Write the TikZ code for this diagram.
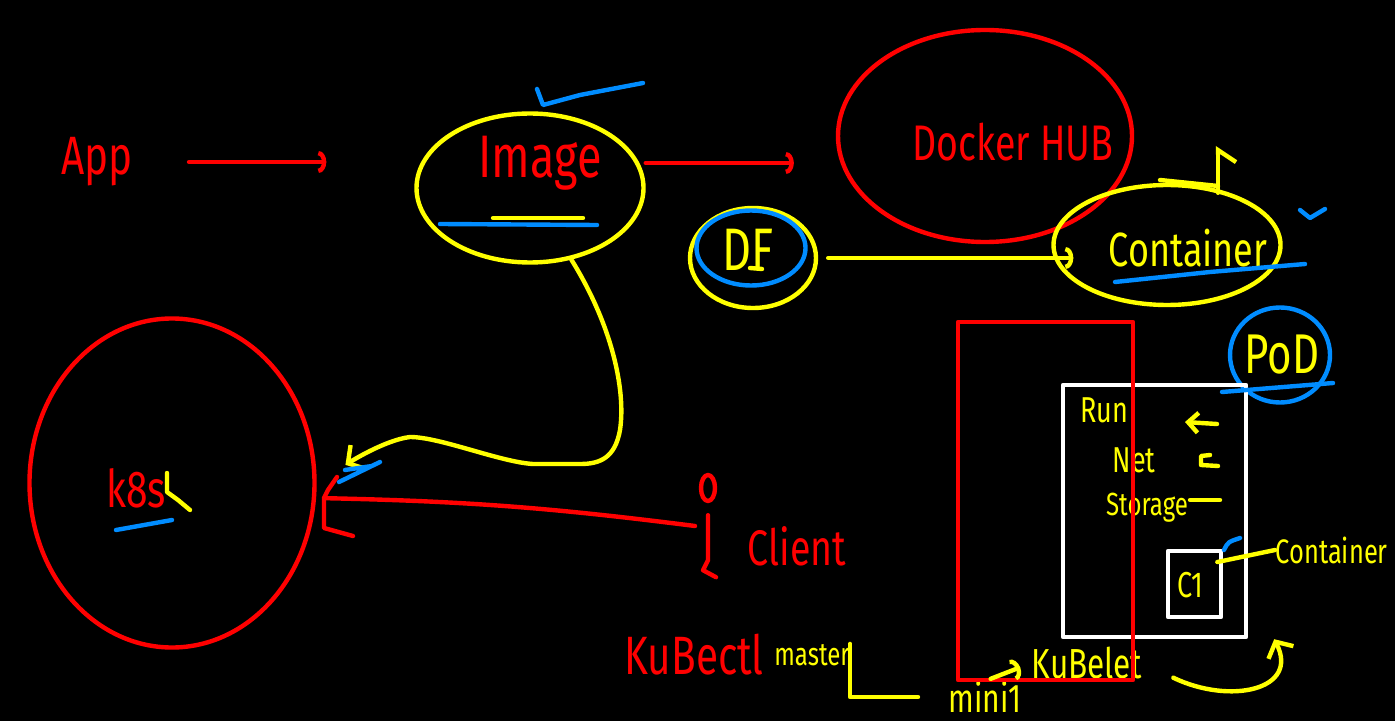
\documentclass[tikz,border=0pt]{standalone}
\usepackage{fontspec}
\setmainfont{Fira Sans}[FakeStretch=0.75]
\usetikzlibrary{arrows.meta,shapes.geometric}

\definecolor{inkred}{RGB}{255,0,0}
\definecolor{inkyellow}{RGB}{255,255,0}
\definecolor{inkblue}{RGB}{0,140,255}

\begin{document}
\begin{tikzpicture}[x=0.5pt, y=-0.5pt,
                    line cap=round, line join=round,
                    ink/.style={line width=2.2pt},
                    ring/.style={ellipse, draw, ink, inner sep=0pt},
                    boxline/.style={draw, ink, inner sep=0pt},
                    word/.style={inner sep=0pt, font=\fontsize{#1}{#1}\selectfont},
                    arcbarb/.style={-{Arc Barb[length=4pt, width=11pt]}},
                    hookbarb/.style={-{Straight Barb[right, length=6pt, width=18pt]}},
                    twobarb/.style={-{Straight Barb[length=6pt, width=14pt]}}]

      \fill[black] (0,0) rectangle (1395,721);
      \useasboundingbox (0,0) rectangle (1395,721);

      % rings
      \node[ring, inkyellow, minimum width=113.5pt, minimum height=74.5pt] (imgring) at (530,188) {};
      \node[ring, inkred, minimum width=147pt, minimum height=106pt] (hubring) at (985,136) {};
      \node[ring, inkyellow, minimum width=63pt, minimum height=50pt] (dfring) at (753,258) {};
      \node[ring, inkblue, minimum width=54.5pt, minimum height=37.5pt] (dfmark) at (751,248) {};
      \node[ring, inkyellow, minimum width=113.5pt, minimum height=60pt] (contring) at (1167,245) {};
      \node[ring, inkred, minimum width=142.5pt, minimum height=164.5pt] (k8sring) at (172,483) {};
      \node[ring, inkblue, minimum width=50pt, minimum height=47.5pt] (podring) at (1280,355) {};

      % labels
      \node[word=27pt, text=inkred] (app) at (97,162) {App};
      \node[word=30pt, text=inkred] (image) at (540,163) {Image};
      \node[word=25pt, text=inkred] (hub) at (1013,142) {Docker HUB};
      \node[word=30pt, text=inkyellow] (df) at (748,250) {DF};
      \node[word=24pt, text=inkyellow] (cont) at (1188,248) {Container};
      \node[word=26pt, text=inkred] (k8s) at (136,488) {k8s};
      \node[word=25pt, text=inkred] (client) at (797,546) {Client};
      \node[word=27pt, text=inkred] (kubectl) at (694,655) {KuBectl};
      \node[word=16pt, text=inkyellow] (master) at (812,655) {master};
      \node[word=20pt, text=inkyellow] (mini1) at (985,697) {mini1};
      \node[word=21pt, text=inkyellow] (kubelet) at (1087,663) {KuBelet};
      \node[word=28pt, text=inkyellow] (pod) at (1282,355) {PoD};

      % pod box
      \node[boxline, white, minimum width=91.5pt, minimum height=126pt] (podbox) at (1154.5,511) {};
      \node[boxline, white, minimum width=26.5pt, minimum height=33pt] (c1box) at (1194.5,584) {};
      \node[word=18pt, text=inkyellow] (c1) at (1190,585) {C1};
      \node[word=18pt, text=inkyellow] (run) at (1104,410) {Run};
      \node[word=18pt, text=inkyellow] (net) at (1134,460) {Net};
      \node[word=16pt, text=inkyellow] (storage) at (1147,508) {Storage};
      \node[word=17pt, text=inkyellow, anchor=west] (sidetag) at (1275,550) {Container};
      \node[boxline, inkred, minimum width=87.5pt, minimum height=179pt] (node1) at (1045.5,501) {};

      % client figure
      \node[ellipse, draw, ink, inkred, inner sep=0pt, minimum width=7pt, minimum height=13pt] (head) at (708,488) {};
      \draw[ink, inkred] ([yshift=-6pt]head.south) -- ++(0,45) -- ++(-5,10) -- ++(13,7);
      \coordinate (grip) at (695,526);

      % connectors
      \draw[ink, inkred, arcbarb, shorten <=28pt, shorten >=44pt] (app.east) -- (app.east -| imgring.west);
      \draw[ink, inkred, arcbarb, shorten >=21pt] (imgring.east |- image.east) -- (hubring.west |- image.east);
      \draw[ink, inkyellow, arcbarb, shorten <=5pt, shorten >=-11pt] (dfring.east) -- (contring.west |- dfring.east);
      \draw[ink, inkyellow, twobarb, shorten >=17pt] (imgring.-60) .. controls (612,325) and (626,390) .. (620,430)
            .. controls (615,458) and (600,464) .. (580,464) -- (533,464)
            .. controls (500,462) and (440,437) .. (410,437)
            .. controls (385,440) and (350,462) .. (k8sring.east);
      \draw[ink, inkred, shorten >=4.5pt] (grip) to[bend right=3] (k8sring.east |- 0,498);
      \draw[ink, inkred] (337,477) -- (328,490) -- (324,498) -- (324,528) -- (353,536);
      \coordinate (lift) at (1218,146);
      \draw[ink, inkyellow, hookbarb, shorten <=-5pt] (contring.north -| lift) -- (lift);
      \draw[ink, inkyellow, shorten >=15pt] (master.north east) |- (mini1.west);
      \draw[ink, inkyellow, arcbarb, shorten <=3pt, shorten >=6pt] (mini1.north) -- (kubelet.west);
      \draw[ink, inkyellow, twobarb, shorten <=17pt] (kubelet.east) .. controls (1230,705) and (1300,690) .. ([xshift=13pt]podbox.south east);
      \draw[ink, inkyellow, shorten <=-3pt] ([yshift=-6pt]c1box.north east) -- (sidetag.west);

      % marks inside the pod box
      \draw[ink, inkyellow, -{Straight Barb[length=5pt, width=10pt]}] (1217,424) -- (1185,422);
      \draw[ink, inkyellow] (1210,455) -- (1201,456) -- (1201,465) -- (1218,466);
      \draw[ink, inkyellow] (1190,500) -- (1220,500);
      \draw[ink, inkyellow] (1160,180) -- (1218,186);

      % underlines and ticks
      \draw[ink, inkyellow] (493,218) -- (583,218);
      \draw[ink, inkblue] (440,224) -- (597,225);
      \draw[ink, inkblue] (537,89) -- (543,105) -- (580,95) -- (643,83);
      \draw[ink, inkyellow] (750,268) -- (762,269);
      \draw[ink, inkblue] (1115,282) -- (1210,272) -- (1305,264);
      \draw[ink, inkblue] (1300,210) -- (1310,218) -- (1325,209);
      \draw[ink, inkblue] (1222,392) -- (1333,383);
      \draw[ink, inkblue] (1224,550) .. controls (1228,542) .. (1240,538);
      \draw[ink, inkblue] (116,530) -- (172,520);
      \draw[ink, inkyellow] (167,473) -- (167,492) -- (178,500) -- (190,510);
      \draw[ink, inkblue] (339,482) -- (380,462) (345,470) -- (372,466);

\end{tikzpicture}
\end{document}
